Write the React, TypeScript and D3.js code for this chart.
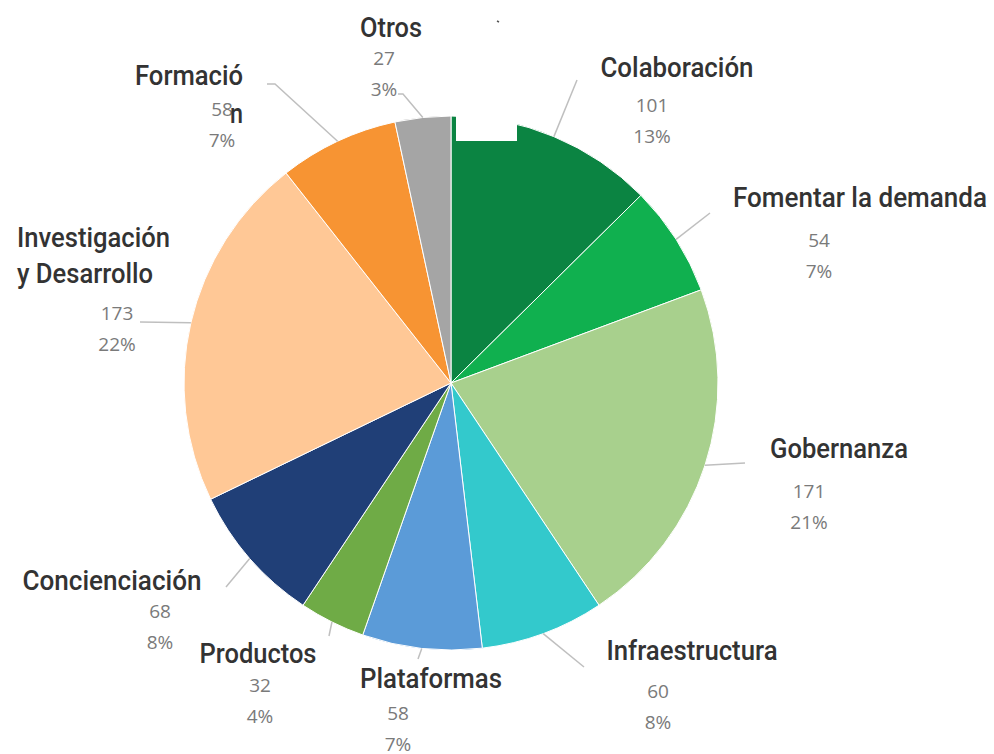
import React, { useEffect, useRef } from 'react';
import * as d3 from 'd3';

const categories = ['Colaboración', 'Fomentar la demanda', 'Gobernanza', 'Infraestructura', 'Plataformas', 'Productos', 'Concienciación', 'Investigación y Desarrollo', 'Formación', 'Otros'];
const values = [101, 54, 171, 60, 58, 32, 68, 173, 58, 27];
const percentLabels = ['13%', '7%', '21%', '8%', '7%', '4%', '8%', '22%', '7%', '3%'];
const colors = ['#0b8442', '#10b04f', '#a8d08d', '#33c9cc', '#5b9bd8', '#6fab46', '#203f77', '#ffc896', '#f79433', '#a5a5a5'];

// label placement: title lines (with their widths), title anchor, value text centre, leader end
const labelLayout = [
    { lines: ['Colaboración'], widths: [153], tx: 677, ty: 77, anchor: 'middle', vx: 652, vy: 112, end: [577, 80] },
    { lines: ['Fomentar la demanda'], widths: [254], tx: 860, ty: 207, anchor: 'middle', vx: 819, vy: 247, end: [710, 213] },
    { lines: ['Gobernanza'], widths: [138], tx: 839, ty: 458, anchor: 'middle', vx: 809, vy: 498, end: [745, 463] },
    { lines: ['Infraestructura'], widths: [171], tx: 692, ty: 660, anchor: 'middle', vx: 658, vy: 698, end: [584, 667] },
    { lines: ['Plataformas'], widths: [142], tx: 431, ty: 688, anchor: 'middle', vx: 398, vy: 720, end: [418, 659] },
    { lines: ['Productos'], widths: [117], tx: 258, ty: 663, anchor: 'middle', vx: 260, vy: 692, end: [329, 636] },
    { lines: ['Concienciación'], widths: [179], tx: 112, ty: 590, anchor: 'middle', vx: 160, vy: 618, end: [226, 587] },
    { lines: ['Investigación', 'y Desarrollo'], widths: [153, 136], tx: 17, ty: 247, anchor: 'start', vx: 117, vy: 320, end: [140, 322] },
    { lines: ['Formació', 'n'], widths: [108, 13], tx: 135, ty: 85, anchor: 'start', vx: 222, vy: 116, end: [275, 84], hook: [267, 84], wrapX: 230 },
    { lines: ['Otros'], widths: [62], tx: 391, ty: 37, anchor: 'middle', vx: 384, vy: 65, end: [403, 94], hook: [398, 94] },
];

const width = 994;
const height = 754;
const cx = 451;
const cy = 383;
const radius = 267;

const titleFont = "Roboto, 'Liberation Sans', sans-serif";
const valueFont = "'Open Sans', 'Liberation Sans', sans-serif";

const PieChart = () => {
    const ref = useRef<SVGSVGElement>(null);

    useEffect(() => {
        const svg = d3.select(ref.current);
        svg.selectAll('*').remove();

        const pie = d3.pie<number>().sort(null).value(d => d);
        const arcs = pie(values);
        const arc = d3.arc<d3.PieArcDatum<number>>().innerRadius(0).outerRadius(radius);

        const g = svg.append('g').attr('transform', `translate(${cx},${cy})`);
        g.selectAll('path')
            .data(arcs)
            .enter().append('path')
            .attr('d', arc)
            .attr('fill', (_, i) => colors[i])
            .attr('stroke', '#ffffff')
            .attr('stroke-width', 1);

        // leader lines
        arcs.forEach((a, i) => {
            const mid = (a.startAngle + a.endAngle) / 2;
            const sx = cx + radius * Math.sin(mid);
            const sy = cy - radius * Math.cos(mid);
            const lay = labelLayout[i];
            const pts: [number, number][] = [[sx, sy], lay.end as [number, number]];
            if (lay.hook) pts.push(lay.hook as [number, number]);
            svg.append('path')
                .attr('d', d3.line()(pts))
                .attr('fill', 'none')
                .attr('stroke', '#bfbfbf')
                .attr('stroke-width', 1.5);
        });

        // value + percent labels
        labelLayout.forEach((lay, i) => {
            const t = svg.append('text')
                .attr('text-anchor', 'middle')
                .attr('font-family', valueFont)
                .attr('font-size', 19)
                .attr('fill', '#7a7a7a');
            t.append('tspan').attr('x', lay.vx).attr('y', lay.vy).text(values[i]);
            t.append('tspan').attr('x', lay.vx).attr('y', lay.vy + 31).text(percentLabels[i]);
        });

        // category titles on white boxes
        labelLayout.forEach((lay) => {
            const grp = svg.append('g');
            const t = grp.append('text')
                .attr('text-anchor', lay.anchor)
                .attr('font-family', titleFont)
                .attr('font-weight', 500)
                .attr('font-size', 28)
                .attr('fill', '#333333');
            lay.lines.forEach((line, k) => {
                t.append('tspan')
                    .attr('x', k > 0 && lay.wrapX ? lay.wrapX : lay.tx)
                    .attr('y', lay.ty + k * (lay.wrapX ? 38 : 36))
                    .attr('textLength', lay.widths[k])
                    .attr('lengthAdjust', 'spacingAndGlyphs')
                    .text(line);
            });
            if (!lay.wrapX) {
                const bb = (t.node() as SVGTextElement).getBBox();
                grp.insert('rect', 'text')
                    .attr('x', bb.x - 4).attr('y', bb.y)
                    .attr('width', bb.width + 8).attr('height', bb.height)
                    .attr('fill', '#ffffff');
            }
        });

        // white patch and stray mark at the top
        svg.append('rect').attr('x', 456).attr('y', 92).attr('width', 61).attr('height', 49).attr('fill', '#ffffff');
        svg.append('line').attr('x1', 497).attr('y1', 21).attr('x2', 499).attr('y2', 22)
            .attr('stroke', '#555555').attr('stroke-width', 1.5);
    }, []);

    return (
        <svg
            ref={ref}
            width={width}
            height={height}
            style={{ position: 'absolute', left: 0, top: 0, background: '#ffffff' }}
        />
    );
};

export default function App() {
    return <PieChart />;
}
